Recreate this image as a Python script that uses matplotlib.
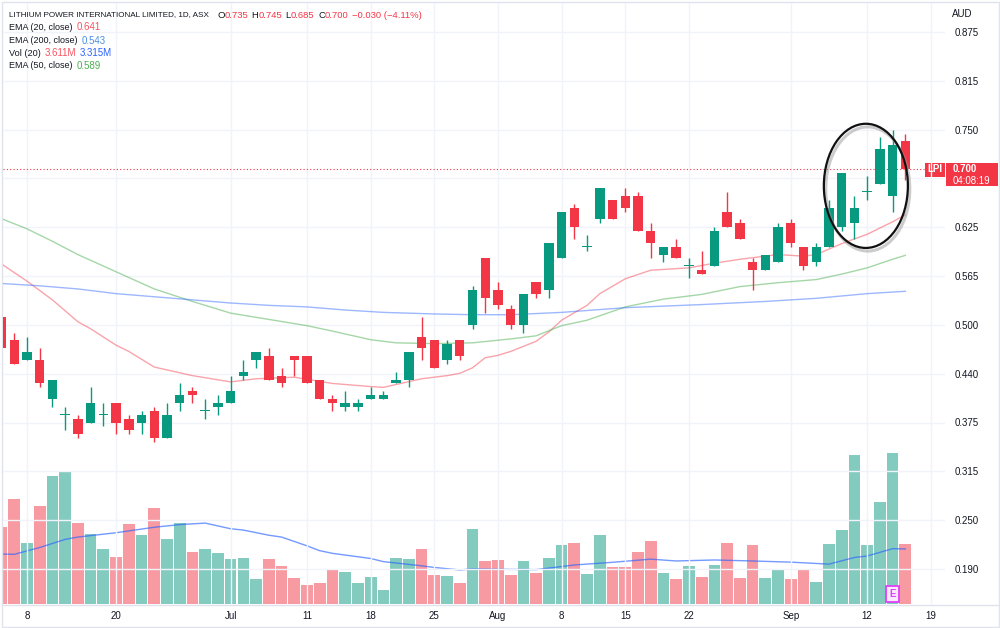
import matplotlib.pyplot as plt
from matplotlib.patches import Ellipse, Rectangle
from matplotlib.lines import Line2D
from matplotlib.transforms import blended_transform_factory
import numpy as np

plt.rcParams['font.family'] = ['Liberation Sans', 'DejaVu Sans']

# daily OHLC, LPI (ASX), bar 0 .. 71
opens = [0.510, 0.480, 0.455, 0.455, 0.405, 0.385, 0.380, 0.375, 0.385, 0.400,
         0.380, 0.375, 0.390, 0.355, 0.400, 0.415, 0.390, 0.395, 0.400, 0.435,
         0.455, 0.460, 0.435, 0.460, 0.460, 0.430, 0.405, 0.395, 0.395, 0.405,
         0.405, 0.425, 0.430, 0.485, 0.480, 0.455, 0.480, 0.500, 0.585, 0.545,
         0.520, 0.500, 0.555, 0.545, 0.585, 0.650, 0.600, 0.635, 0.660, 0.665,
         0.665, 0.620, 0.590, 0.600, 0.575, 0.570, 0.575, 0.645, 0.630, 0.580,
         0.570, 0.580, 0.630, 0.600, 0.580, 0.600, 0.625, 0.630, 0.670, 0.680,
         0.665, 0.735]
highs = [0.510, 0.490, 0.485, 0.470, 0.430, 0.395, 0.385, 0.420, 0.400, 0.400,
         0.385, 0.390, 0.395, 0.400, 0.425, 0.420, 0.405, 0.410, 0.435, 0.455,
         0.465, 0.470, 0.445, 0.460, 0.460, 0.430, 0.410, 0.415, 0.405, 0.420,
         0.415, 0.440, 0.465, 0.510, 0.480, 0.480, 0.480, 0.550, 0.585, 0.555,
         0.525, 0.540, 0.555, 0.605, 0.645, 0.655, 0.615, 0.675, 0.660, 0.675,
         0.670, 0.630, 0.600, 0.610, 0.585, 0.595, 0.625, 0.670, 0.635, 0.585,
         0.590, 0.630, 0.635, 0.600, 0.605, 0.660, 0.695, 0.665, 0.690, 0.740,
         0.750, 0.745]
lows = [0.470, 0.450, 0.455, 0.420, 0.395, 0.365, 0.355, 0.375, 0.370, 0.360,
        0.360, 0.360, 0.350, 0.355, 0.390, 0.400, 0.380, 0.385, 0.400, 0.430,
        0.445, 0.430, 0.420, 0.435, 0.425, 0.405, 0.390, 0.390, 0.390, 0.405,
        0.405, 0.425, 0.420, 0.455, 0.445, 0.450, 0.455, 0.495, 0.515, 0.520,
        0.495, 0.490, 0.535, 0.535, 0.585, 0.610, 0.595, 0.630, 0.635, 0.645,
        0.620, 0.585, 0.580, 0.585, 0.560, 0.565, 0.575, 0.625, 0.610, 0.545,
        0.570, 0.580, 0.600, 0.570, 0.575, 0.600, 0.620, 0.610, 0.660, 0.680,
        0.645, 0.685]
closes = [0.470, 0.450, 0.465, 0.425, 0.430, 0.385, 0.360, 0.400, 0.385, 0.375,
          0.365, 0.385, 0.355, 0.385, 0.410, 0.410, 0.390, 0.400, 0.415, 0.440,
          0.465, 0.430, 0.425, 0.455, 0.425, 0.405, 0.400, 0.400, 0.400, 0.410,
          0.410, 0.430, 0.465, 0.470, 0.445, 0.475, 0.460, 0.545, 0.535, 0.525,
          0.500, 0.540, 0.540, 0.605, 0.645, 0.625, 0.600, 0.675, 0.635, 0.650,
          0.620, 0.605, 0.600, 0.585, 0.575, 0.565, 0.620, 0.625, 0.610, 0.570,
          0.590, 0.625, 0.605, 0.575, 0.600, 0.650, 0.695, 0.650, 0.670, 0.725,
          0.730, 0.700]
# volume in millions
volumes = [4.62, 6.32, 3.69, 5.88, 7.71, 8.01, 4.88, 4.21, 3.33, 2.83,
           4.80, 4.15, 5.78, 3.91, 4.88, 3.11, 3.33, 3.05, 2.69, 2.75,
           1.51, 2.69, 2.29, 1.57, 1.14, 1.25, 2.06, 1.93, 1.25, 1.61,
           0.84, 2.79, 2.71, 3.33, 1.75, 1.67, 1.28, 4.52, 2.61, 2.65,
           1.75, 2.57, 1.85, 2.79, 3.55, 3.69, 1.81, 4.15, 2.25, 2.25,
           3.15, 3.79, 1.85, 1.49, 2.29, 1.63, 2.35, 3.69, 1.58, 3.55,
           1.58, 2.06, 1.49, 2.06, 1.31, 3.61, 4.44, 8.97, 3.55, 6.12,
           9.07, 3.61]

# indicator lines (bar index, value)
ema20_idx = [0, 2, 4, 6, 7, 9, 10, 12, 15, 18, 20, 23, 26, 29, 30, 33, 35, 36, 37, 38,
             39, 40, 42, 43, 44, 46, 47, 49, 51, 54, 56, 58, 61, 63, 64, 65, 66, 67, 68,
             69, 70, 71]
ema20_val = [0.578, 0.556, 0.532, 0.504, 0.495, 0.474, 0.466, 0.446, 0.435, 0.427, 0.431,
             0.433, 0.425, 0.421, 0.420, 0.431, 0.435, 0.438, 0.445, 0.458, 0.461, 0.466,
             0.479, 0.491, 0.506, 0.525, 0.540, 0.559, 0.570, 0.573, 0.579, 0.584, 0.590,
             0.588, 0.590, 0.597, 0.604, 0.610, 0.616, 0.624, 0.632, 0.641]
ema50_idx = [0, 2, 4, 6, 9, 12, 15, 18, 21, 24, 26, 29, 31, 34, 37, 40, 42, 44, 46, 49,
             52, 55, 58, 61, 64, 66, 68, 70, 71]
ema50_val = [0.636, 0.623, 0.607, 0.590, 0.568, 0.546, 0.530, 0.515, 0.507, 0.499, 0.492,
             0.481, 0.477, 0.476, 0.477, 0.482, 0.486, 0.499, 0.506, 0.523, 0.533, 0.539,
             0.549, 0.554, 0.558, 0.565, 0.573, 0.584, 0.589]
ema200_idx = [0, 3, 6, 9, 12, 15, 18, 21, 24, 27, 30, 34, 37, 40, 44, 49, 55, 60, 64, 68, 71]
ema200_val = [0.553, 0.550, 0.546, 0.540, 0.536, 0.532, 0.528, 0.525, 0.523, 0.519, 0.516,
              0.514, 0.513, 0.513, 0.516, 0.522, 0.526, 0.530, 0.534, 0.540, 0.543]
volma_idx = [0, 1, 3, 5, 6, 9, 12, 14, 16, 18, 19, 21, 22, 24, 25, 26, 29, 30, 33, 34,
             36, 37, 39, 42, 45, 48, 51, 53, 56, 59, 62, 65, 67, 68, 70, 71]
volma_val = [3.01, 2.99, 3.40, 3.89, 4.03, 4.29, 4.62, 4.78, 4.87, 4.53, 4.45, 4.14, 4.03,
             3.50, 3.21, 3.05, 2.74, 2.55, 2.30, 2.20, 2.05, 2.11, 2.09, 2.07, 2.35, 2.51,
             2.70, 2.59, 2.65, 2.59, 2.52, 2.40, 2.80, 2.89, 3.33, 3.315]

tick_idx = [2, 9, 18, 24, 29, 34, 39, 44, 49, 54, 62, 68, 73]
tick_lbl = ['8', '20', 'Jul', '11', '18', '25', 'Aug', '8', '15', '22', 'Sep', '12', '19']
price_ticks = [0.1875, 0.25, 0.3125, 0.375, 0.4375, 0.5, 0.5625, 0.625, 0.6875, 0.75, 0.8125, 0.875]
price_lbl = ['0.190', '0.250', '0.315', '0.375', '0.440', '0.500', '0.565', '0.625', '',
             '0.750', '0.815', '0.875']
earnings_idx = 70

GREEN = '#089981'
RED = '#F23645'
TXT = '#131722'
GRID = '#F0F3FA'

W, H = 1000, 628
fig = plt.figure(figsize=(10, 6.28), dpi=100)
fig.patch.set_facecolor('white')
renderer = fig.canvas.get_renderer()


def fx(x):
    return x / W


def fy(y):
    return 1 - y / H


def put(x, y, s, color=TXT, size=7, **kw):
    # write a text at pixel (x, y) and return the pixel x where it ends
    t = fig.text(fx(x), fy(y), s, fontsize=size, color=color, va='center', **kw)
    return x + t.get_window_extent(renderer).width


def fit(x, y, s, xmax, size=7):
    # shrink a label until it ends before xmax
    while size > 5:
        t = fig.text(fx(x), fy(y), s, fontsize=size, color=TXT, va='center')
        if x + t.get_window_extent(renderer).width <= xmax:
            return
        t.remove()
        size -= 0.1
    fig.text(fx(x), fy(y), s, fontsize=size, color=TXT, va='center')


# pane geometry in pixels and scale (px per bar, px per price unit)
L, R, T, B = 3, 945, 3, 604
x0, bar_px = 1.5, 12.73
p0, y_p0, price_px = 0.875, 32, 781
vol_px = 0.0602

rect = [fx(L), fy(B), fx(R) - fx(L), fy(T) - fy(B)]
ax_v = fig.add_axes(rect, zorder=0)
ax = fig.add_axes(rect, zorder=1)
ax.patch.set_alpha(0)

xlim = ((L - x0) / bar_px, (R - x0) / bar_px)
ax.set_xlim(*xlim)
ax_v.set_xlim(*xlim)
ax.set_ylim(p0 - (B - y_p0) / price_px, p0 + (y_p0 - T) / price_px)
ax_v.set_ylim(0, (B - T) * vol_px)
ax_v.set_yticks([])
ax_v.set_xticks([])
for s in ax_v.spines.values():
    s.set_visible(False)

idx = np.arange(len(closes))
o = np.array(opens)
c = np.array(closes)
colors = [GREEN if u else RED for u in (c >= o)]

# grid
for p in price_ticks:
    ax.axhline(p, color=GRID, lw=1, zorder=0)
for t in tick_idx:
    ax.axvline(t, color=GRID, lw=1, zorder=0)

# volume
ax_v.bar(idx, volumes, width=0.92, color=colors, alpha=0.5, linewidth=0, zorder=2)
ax_v.plot(volma_idx, volma_val, color='#2962FF', lw=1, alpha=0.65, zorder=3)

# moving averages
ax.plot(ema20_idx, ema20_val, color=RED, lw=1, alpha=0.45, zorder=2)
ax.plot(ema50_idx, ema50_val, color='#4CAF50', lw=1, alpha=0.5, zorder=2)
ax.plot(ema200_idx, ema200_val, color='#2962FF', lw=1, alpha=0.45, zorder=2)

# candles
ax.vlines(idx, lows, highs, colors=colors, lw=1, zorder=3)
body = np.maximum(np.abs(c - o), 0.0014)
ax.bar(idx, body, bottom=np.minimum(o, c), width=0.74, color=colors, linewidth=0, zorder=4)

# last price line
ax.axhline(closes[-1], color=RED, lw=0.8, ls=(0, (1, 2)), zorder=1)

# hand drawn circle
cx, cy = 67.9, 0.678
ax.add_patch(Ellipse((cx + 0.15, cy - 0.004), 6.6, 0.159, fill=False, ec='#9a9a9a',
                     lw=2.2, alpha=0.5, zorder=5))
ax.add_patch(Ellipse((cx, cy), 6.6, 0.159, fill=False, ec='#111111', lw=1.6, zorder=6))

# earnings marker
trans = blended_transform_factory(ax_v.transData, ax_v.transAxes)
ax_v.text(earnings_idx, 0.0165, 'E', transform=trans, ha='center', va='center', fontsize=7,
          color='#E040FB', fontweight='bold', zorder=6,
          bbox=dict(boxstyle='square,pad=0.3', fc='#FBE9FD', ec='#E040FB', lw=1.3))

# axes ticks
ax.set_xticks(tick_idx)
ax.set_xticklabels(tick_lbl)
ax.yaxis.tick_right()
ax.set_yticks(price_ticks)
ax.set_yticklabels(price_lbl)
ax.tick_params(axis='both', length=0, labelsize=7, labelcolor=TXT)
ax.tick_params(axis='y', pad=7)
ax.tick_params(axis='x', pad=5)
for s in ax.spines.values():
    s.set_visible(False)

# frame lines
fig.add_artist(Rectangle((fx(1.5), fy(626.5)), fx(997), 625 / H, transform=fig.transFigure,
                         fill=False, ec='#E0E3EB', lw=1))
fig.add_artist(Line2D([fx(1.5), fx(998.5)], [fy(604.5), fy(604.5)], transform=fig.transFigure,
                      color='#E0E3EB', lw=1))

# header
fit(9, 15, 'LITHIUM POWER INTERNATIONAL LIMITED, 1D, ASX', 214)
x = 217
for k, v in [('O', '0.735'), ('H', '0.745'), ('L', '0.685'), ('C', '0.700')]:
    x = put(x, 15, k, size=6.8)
    x = put(x, 15, v, RED, size=6.8) + 3.5
put(x, 15, '\u22120.030 (\u22124.11%)', RED, size=6.8)

rows = [(27.5, 'EMA (20, close)', [(77, '0.641', '#F7525F')]),
        (40.5, 'EMA (200, close)', [(82, '0.543', '#4A90E2')]),
        (53.5, 'Vol (20)', [(45, '3.611M', '#F7525F'), (80, '3.315M', '#2962FF')]),
        (66, 'EMA (50, close)', [(77, '0.589', '#4CAF50')])]
for y, lab, vals in rows:
    fit(9, y, lab, vals[0][0] - 4)
    for vx, s, col in vals:
        put(vx, y, s, col)

put(952, 14, 'AUD')

# last price tags
fig.add_artist(Rectangle((fx(925), fy(176.5)), 20 / W, 14 / H, transform=fig.transFigure,
                         fc=RED, ec='none'))
fig.text(fx(935), fy(169.5), 'LPI', fontsize=7, color='white', ha='center', va='center',
         fontweight='bold')
fig.add_artist(Rectangle((fx(946), fy(186)), 52 / W, 23 / H, transform=fig.transFigure,
                         fc=RED, ec='none'))
put(953, 169, '%.3f' % closes[-1], 'white', fontweight='bold')
put(953, 180.5, '04:08:19', 'white')

fig.savefig('out.png', dpi=100)
